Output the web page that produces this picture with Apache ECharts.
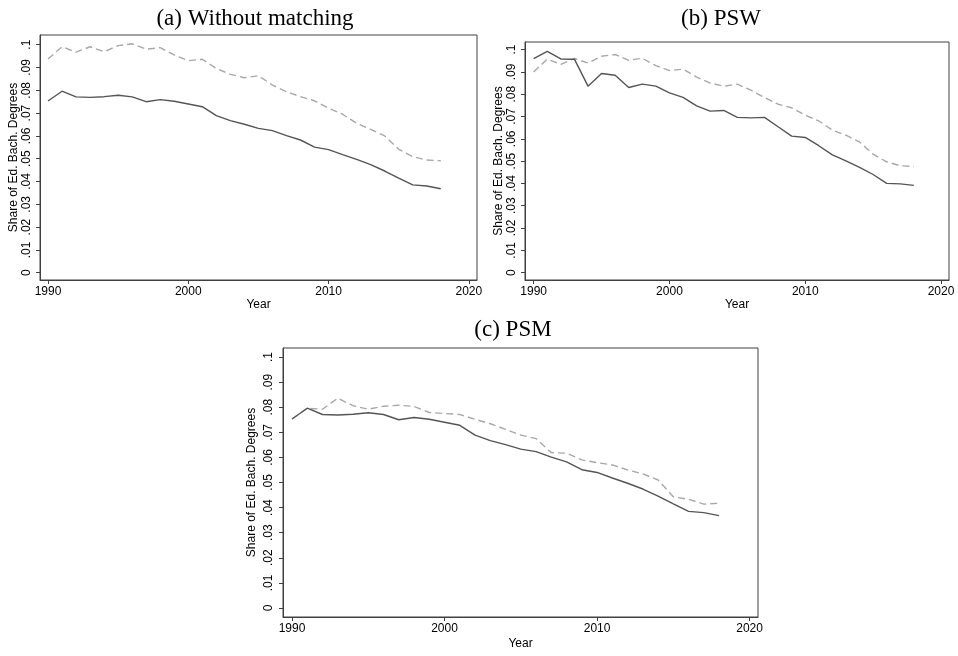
<!DOCTYPE html>
<html>
<head>
<meta charset="utf-8">
<script src="https://cdn.jsdelivr.net/npm/echarts@6/dist/echarts.min.js"></script>
<style>
  html, body { margin: 0; padding: 0; background: #ffffff; }
  #chart { width: 958px; height: 656px; }
</style>
</head>
<body>
<div id="chart"></div>
<script>
// Years covered by every panel
const years = [1990, 1991, 1992, 1993, 1994, 1995, 1996, 1997, 1998, 1999,
               2000, 2001, 2002, 2003, 2004, 2005, 2006, 2007, 2008, 2009,
               2010, 2011, 2012, 2013, 2014, 2015, 2016, 2017, 2018];

// (a) Without matching
const rawSolid  = [0.0753, 0.0796, 0.0771, 0.0769, 0.0772, 0.0778, 0.0771, 0.0750, 0.0759, 0.0752,
                   0.0740, 0.0728, 0.0689, 0.0667, 0.0651, 0.0633, 0.0623, 0.0601, 0.0582, 0.0551,
                   0.0540, 0.0518, 0.0497, 0.0474, 0.0446, 0.0415, 0.0385, 0.0380, 0.0368];
const rawDashed = [0.0937, 0.0991, 0.0967, 0.0991, 0.0969, 0.0996, 0.1004, 0.0980, 0.0987, 0.0955,
                   0.0930, 0.0936, 0.0896, 0.0870, 0.0855, 0.0864, 0.0823, 0.0794, 0.0772, 0.0754,
                   0.0721, 0.0695, 0.0655, 0.0629, 0.0600, 0.0541, 0.0509, 0.0494, 0.0491];

// (b) PSW
const pswSolid  = [0.0960, 0.0992, 0.0958, 0.0957, 0.0836, 0.0893, 0.0885, 0.0830, 0.0845, 0.0836,
                   0.0806, 0.0786, 0.0748, 0.0724, 0.0727, 0.0696, 0.0694, 0.0696, 0.0654, 0.0612,
                   0.0606, 0.0569, 0.0528, 0.0501, 0.0472, 0.0440, 0.0400, 0.0398, 0.0391];
const pswDashed = [0.0900, 0.0957, 0.0934, 0.0960, 0.0940, 0.0970, 0.0978, 0.0952, 0.0961, 0.0928,
                   0.0906, 0.0912, 0.0877, 0.0850, 0.0836, 0.0845, 0.0818, 0.0785, 0.0755, 0.0739,
                   0.0706, 0.0680, 0.0639, 0.0616, 0.0586, 0.0531, 0.0497, 0.0479, 0.0476];

// (c) PSM
const psmSolid  = [0.0753, 0.0796, 0.0771, 0.0769, 0.0772, 0.0778, 0.0771, 0.0750, 0.0759, 0.0752,
                   0.0740, 0.0728, 0.0689, 0.0667, 0.0651, 0.0633, 0.0623, 0.0601, 0.0582, 0.0551,
                   0.0540, 0.0518, 0.0497, 0.0474, 0.0446, 0.0415, 0.0385, 0.0380, 0.0368];
const psmDashed = [0.0753, 0.0796, 0.0792, 0.0836, 0.0806, 0.0792, 0.0804, 0.0808, 0.0803, 0.0779,
                   0.0775, 0.0771, 0.0752, 0.0734, 0.0712, 0.0689, 0.0675, 0.0619, 0.0617, 0.0590,
                   0.0579, 0.0570, 0.0550, 0.0534, 0.0510, 0.0443, 0.0433, 0.0414, 0.0417];

// Tick values and their labels
const xTicks = [1990, 2000, 2010, 2020];
const yTicks = [0, 0.01, 0.02, 0.03, 0.04, 0.05, 0.06, 0.07, 0.08, 0.09, 0.1];
const yTickLabels = ['0', '.01', '.02', '.03', '.04', '.05', '.06', '.07', '.08', '.09', '.1'];

const panelTitles = ['(a) Without matching', '(b) PSW', '(c) PSM'];
const xTitle = 'Year';
const yTitle = 'Share of Ed. Bach. Degrees';

// Layout of the three plot regions
const panels = [
  { title: panelTitles[0], titleX: 250, titleY: 2,
    grid: { left: 40, top: 35, width: 437, height: 245 },
    xMin: 1989.43, xMax: 2020.58, yMin: -0.0032, yMax: 0.10425,
    yGap: 14, yMargin: 7, xGap: 19, solid: rawSolid, dashed: rawDashed },
  { title: panelTitles[1], titleX: 716, titleY: 2,
    grid: { left: 525, top: 42, width: 424, height: 238 },
    xMin: 1989.36, xMax: 2020.59, yMin: -0.0033, yMax: 0.1034,
    yGap: 19, yMargin: 7, xGap: 19, solid: pswSolid, dashed: pswDashed },
  { title: panelTitles[2], titleX: 508, titleY: 313,
    grid: { left: 283, top: 348, width: 475, height: 269 },
    xMin: 1989.41, xMax: 2020.55, yMin: -0.0036, yMax: 0.1036,
    yGap: 25, yMargin: 8, xGap: 21, solid: psmSolid, dashed: psmDashed }
];

const axisColor = '#404040';
const sansFont = '"Liberation Sans", Arial, sans-serif';

const option = {
  animation: false,
  backgroundColor: '#ffffff',
  title: panels.map(p => ({
    text: p.title,
    left: p.titleX,
    top: p.titleY,
    textAlign: 'center',
    textStyle: { fontFamily: '"Liberation Serif", "Times New Roman", serif',
                 fontSize: 23, fontWeight: 'normal', color: '#000000' }
  })),
  grid: panels.map(p => Object.assign({ show: true, borderColor: axisColor, borderWidth: 1,
                                        backgroundColor: '#ffffff' }, p.grid)),
  xAxis: panels.map((p, i) => ({
    type: 'value', gridIndex: i, min: p.xMin, max: p.xMax,
    name: xTitle, nameLocation: 'middle', nameGap: p.xGap,
    nameTextStyle: { fontFamily: sansFont, fontSize: 12, color: '#000000' },
    axisLine: { show: true, onZero: false, lineStyle: { color: axisColor, width: 1 } },
    axisTick: { show: true, length: 4, customValues: xTicks, lineStyle: { color: axisColor } },
    axisLabel: { customValues: xTicks, margin: 6, fontFamily: sansFont, fontSize: 12, color: '#000000',
                 formatter: v => String(Math.round(v)) },
    splitLine: { show: false }
  })),
  yAxis: panels.map((p, i) => ({
    type: 'value', gridIndex: i, min: p.yMin, max: p.yMax,
    name: yTitle, nameLocation: 'middle', nameGap: p.yGap,
    nameTextStyle: { fontFamily: sansFont, fontSize: 12, color: '#000000' },
    axisLine: { show: true, onZero: false, lineStyle: { color: axisColor, width: 1 } },
    axisTick: { show: true, length: 4, customValues: yTicks, lineStyle: { color: axisColor } },
    axisLabel: { customValues: yTicks, rotate: 90, margin: p.yMargin, fontFamily: sansFont, fontSize: 12,
                 color: '#000000',
                 formatter: v => {
                   const k = yTicks.findIndex(t => Math.abs(t - v) < 1e-9);
                   return k >= 0 ? yTickLabels[k] : '';
                 } },
    splitLine: { show: false }
  })),
  series: panels.flatMap((p, i) => [
    { type: 'line', xAxisIndex: i, yAxisIndex: i, showSymbol: false, silent: true,
      data: years.map((y, k) => [y, p.dashed[k]]),
      lineStyle: { color: '#a8a8a8', width: 1.4, type: [7, 4] } },
    { type: 'line', xAxisIndex: i, yAxisIndex: i, showSymbol: false, silent: true,
      data: years.map((y, k) => [y, p.solid[k]]),
      lineStyle: { color: '#555555', width: 1.4 } }
  ])
};

const chart = echarts.init(document.getElementById('chart'), null, { renderer: 'canvas' });
chart.setOption(option);
</script>
</body>
</html>
